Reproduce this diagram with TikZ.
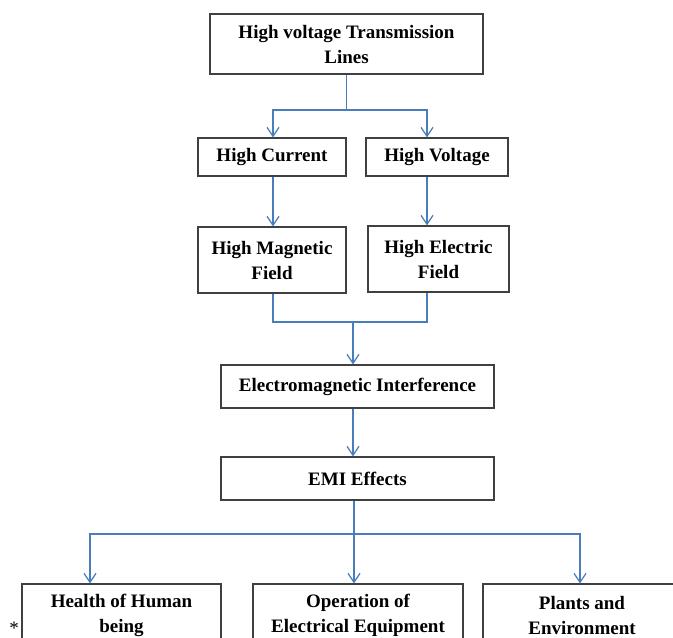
\documentclass[tikz,border=0pt]{standalone}
\usepackage{fontspec}
\setmainfont{Liberation Serif}
\usetikzlibrary{arrows.meta}
\definecolor{linkblue}{RGB}{74,126,187}
\begin{document}
\begin{tikzpicture}[x=1pt,y=-1pt]
\tikzstyle{box_style} = [draw=black!75, line width=1.2pt, inner sep=0pt, align=center, font=\fontsize{19}{25}\selectfont\bfseries]
\tikzstyle{edge_style} = [linkblue, line width=1.2pt]
\tikzstyle{arrow_style} = [edge_style, -{Straight Barb[length=9pt,width=12pt]}]
    \useasboundingbox (0,0) rectangle (673,638);
    \clip (0,0) rectangle (673,638);

    \node[box_style, minimum width=273pt, minimum height=60pt] (lines) at (346.5,44) {High voltage Transmission\\Lines};
    \node[box_style, minimum width=148pt, minimum height=38pt] (current) at (272,157) {High Current};
    \node[box_style, minimum width=142pt, minimum height=38pt] (voltage) at (437,157) {High Voltage};
    \node[box_style, minimum width=148pt, minimum height=66pt] (magnetic) at (272,260) {High Magnetic\\Field};
    \node[box_style, minimum width=141pt, minimum height=66pt] (electric) at (438.5,259) {High Electric\\Field};
    \node[box_style, minimum width=273pt, minimum height=43pt] (interference) at (357.5,386.5) {Electromagnetic Interference};
    \node[box_style, minimum width=273pt, minimum height=43pt] (effects) at (357.5,478.5) {EMI Effects};
    \node[box_style, minimum width=199pt, minimum height=62pt] (health) at (121.5,615) {Health of Human\\being};
    \node[box_style, minimum width=210pt, minimum height=62pt] (equipment) at (358,615) {Operation of\\Electrical Equipment};
    \node[box_style, minimum width=198pt, minimum height=62pt] (plants) at (582,615) {Plants and\\Environment};
    \node[font=\fontsize{19}{25}\selectfont, inner sep=0pt] (star) at (14,628) {*};

    \coordinate (split1) at (346.5,110);
    \coordinate (join) at (353,322);
    \coordinate (split2) at (354,534);

    \draw[edge_style] (lines.south) -- (split1);
    \draw[arrow_style] (split1) -| ([xshift=1pt]current.north);
    \draw[arrow_style] (split1) -| ([xshift=-10pt]voltage.north);
    \draw[arrow_style] ([xshift=1pt]current.south) -- ([xshift=1pt]magnetic.north);
    \draw[arrow_style] ([xshift=-10pt]voltage.south) -- ([xshift=-11.5pt]electric.north);
    \draw[edge_style] ([xshift=1pt]magnetic.south) |- (join) -| ([xshift=-11.5pt]electric.south);
    \draw[arrow_style] (join) -- (interference.north -| join);
    \draw[arrow_style] (interference.south -| join) -- (effects.north -| join);
    \draw[edge_style] (effects.south -| split2) -- (split2);
    \draw[arrow_style] (split2) -| ([xshift=-31.5pt]health.north);
    \draw[arrow_style] (split2) -- (equipment.north -| split2);
    \draw[arrow_style] (split2) -| ([xshift=-2pt]plants.north);
\end{tikzpicture}
\end{document}
